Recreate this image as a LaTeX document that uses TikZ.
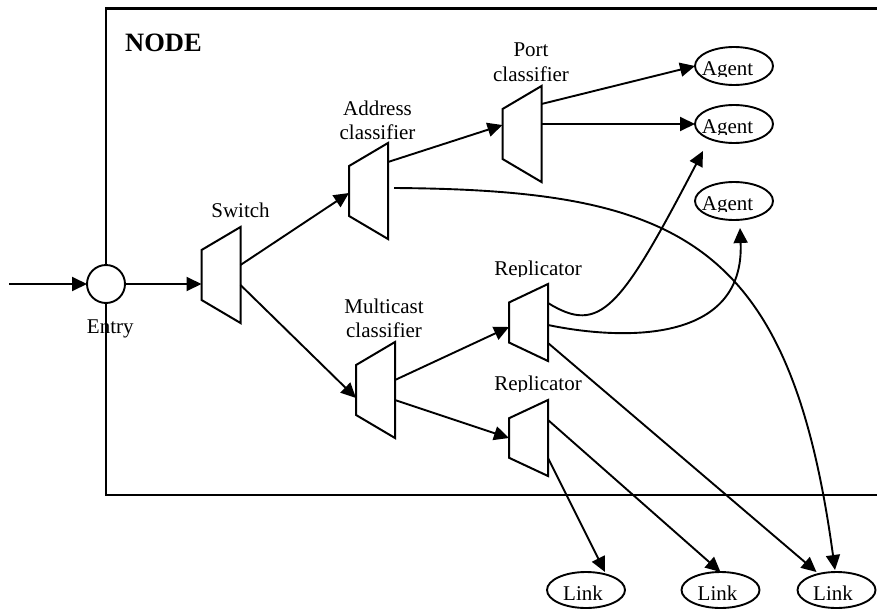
\documentclass[tikz,border=0pt]{standalone}
\usepackage{fontspec}
\setmainfont{Liberation Serif}
\usetikzlibrary{arrows.meta,shapes.geometric,calc}

% a classifier / replicator drawn as a trapezoid: #1 name, #2 x, #3 y, #4 height of the long side
\newcommand\muxat[4]{%
  \node[inner sep=0pt, outer sep=0pt, minimum width=39pt, minimum height=#4pt] (#1) at (#2,#3) {};
  \draw[muxline] (#1.north east) -- (#1.south east)
    -- ($(#1.south west)!0.24!(#1.north west)$)
    -- ($(#1.north west)!0.24!(#1.south west)$) -- cycle;
}
% a label whose descenders are cut off at the baseline
\newcommand\cutlabel[4]{% #1 name, #2 x, #3 baseline, #4 text
  \begin{scope}
    \clip (#2-80,#3-30) rectangle (#2+80,#3+1.5);
    \node[lbl] (#1) at (#2,#3) {#4};
  \end{scope}
}

\begin{document}
\begin{tikzpicture}[x=1pt,y=-1pt,
  frame/.style={line width=2.4pt},
  muxline/.style={line width=2pt, line join=miter},
  flow/.style={line width=1.9pt, -{Triangle[length=15pt,width=14pt]}},
  oval/.style={ellipse, draw, line width=1.9pt, inner sep=0pt, outer sep=0pt,
               minimum width=78pt, minimum height=38pt},
  lbl/.style={inner sep=0pt, font=\fontsize{21}{24}\selectfont, anchor=base},
]
\clip (0,0) rectangle (877,610);

% the node frame, open to the right
\draw[frame] (895,8.5) -- (106,8.5) -- (106,495) -- (895,495);
\node[inner sep=0pt, anchor=base west, font=\bfseries\fontsize{26.5}{30}\selectfont]
  (title) at (125,51.7) {NODE};

% entry point
\node[circle, draw, fill=white, line width=1.9pt, minimum size=38pt, inner sep=0pt, outer sep=0pt]
  (entry) at (106,284) {};
\node[lbl] (entrytxt) at (110.3,333) {Entry};
\coordinate (src) at (9,284);

% classifiers and replicators
\muxat{sw}{221}{275}{96}
\muxat{ad}{368.5}{191}{96}
\muxat{pc}{522}{134}{96}
\muxat{mc}{375.5}{390}{96}
\muxat{ra}{528.5}{322.5}{77}
\muxat{rb}{528.5}{438}{76}

\node[lbl] (swtxt) at (240.5,217) {Switch};
\node[lbl] (adtxt) at (377.5,115) {Address};
\node[lbl] (adtxtb) at (377.5,139.3) {classifier};
\node[lbl] (pctxt) at (531,56.7) {Port};
\node[lbl] (pctxtb) at (531,81.7) {classifier};
\node[lbl] (mctxt) at (384,313) {Multicast};
\node[lbl] (mctxtb) at (384,337) {classifier};
\cutlabel{ratxt}{538}{275}{Replicator}
\cutlabel{rbtxt}{538}{390}{Replicator}

% agents and links
\node[oval] (ag1) at (734,66) {};
\node[oval] (ag2) at (734,124) {};
\node[oval] (ag3) at (734,201) {};
\cutlabel{ag1txt}{727.5}{75}{Agent}
\cutlabel{ag2txt}{727.5}{133}{Agent}
\cutlabel{ag3txt}{727.5}{210}{Agent}

\node[oval, minimum height=36pt] (lk1) at (586,590) {};
\node[oval, minimum height=36pt] (lk2) at (720.5,590) {};
\node[oval, minimum height=36pt] (lk3) at (836.5,590) {};
\node[lbl] (lk1txt) at (583,600) {Link};
\node[lbl] (lk2txt) at (717.5,600) {Link};
\node[lbl] (lk3txt) at (833,600) {Link};

% free ends of the arrows that stop short of the agents
\coordinate (ag2in) at ($(ag2.center)+(-31,27)$);
\coordinate (ag3in) at ($(ag3.south)+(6,8)$);

% connectors
\draw[flow] (src) -- (entry.west);
\draw[flow] (entry.east) -- ($(sw.west)+(0,9)$);
\draw[flow] ($(sw.east)+(0,-10)$) -- ($(ad.west)+(0,2)$);
\draw[flow] ($(sw.east)+(0,10)$) -- ($(mc.west)+(0,8)$);
\draw[flow] ($(ad.east)+(0,-29)$) -- ($(pc.west)+(0,-9)$);
\draw[flow] ($(pc.east)+(0,-30)$) -- (ag1.west);
\draw[flow] ($(pc.east)+(0,-10)$) -- (ag2.west);
\draw[flow] ($(ad.east)+(6,-3)$) .. controls +(286,2) and +(-45,-330) .. ($(lk3.north)+(-1.5,-2)$);
\draw[flow] ($(mc.east)+(0,-10)$) -- ($(ra.west)+(0,4.5)$);
\draw[flow] ($(mc.east)+(0,10)$) -- (rb.west);
\draw[flow] ($(ra.east)+(0,-19.5)$) .. controls +(52,32) and +(-83,159) .. (ag2in);
\draw[flow] ($(ra.east)+(0,2.5)$) .. controls +(72,15) and +(5,117) .. (ag3in);
\draw[flow] ($(ra.east)+(0,20.5)$) -- ($(lk3.north)+(-20,0)$);
\draw[flow] ($(rb.east)+(0,-18)$) -- (lk2.north);
\draw[flow] ($(rb.east)+(0,20)$) -- ($(lk1.north)+(19,0)$);
\end{tikzpicture}
\end{document}
